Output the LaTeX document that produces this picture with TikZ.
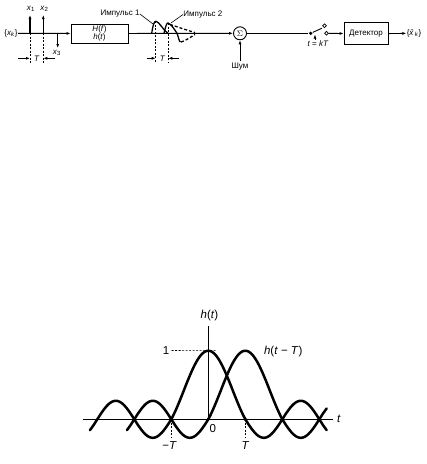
\documentclass[tikz,border=0pt]{standalone}
\usepackage{fontspec}
\setmainfont{Liberation Sans}
\usetikzlibrary{arrows.meta,positioning,calc}

\begin{document}
\begin{tikzpicture}[x=1pt, y=-1pt, line width=0.9pt, >={Latex[length=4pt,width=3pt]},
    every node/.style={font=\fontsize{8}{9}\selectfont, inner sep=0pt},
    blk/.style={draw, line width=0.9pt, minimum width=57pt, minimum height=19pt, align=center},
    sum/.style={draw, circle, line width=0.9pt, minimum size=13pt},
    imp/.style={->, line width=1.1pt},
    guide/.style={dashed, line width=0.6pt, dash pattern=on 2pt off 1.5pt},
    pulse/.style={line width=1.3pt},
    curve/.style={line width=2.5pt, line cap=round},
    big/.style={font=\fontsize{11.5}{12}\selectfont},
    declare function={hh(\u)=(abs(\u)<1)*sin(180*\u)/(pi*\u)+(abs(\u)>=1)*0.27*sin(180*abs(\u));}]
    \useasboundingbox (0,0) rectangle (427,464);

    % transmitter, channel and receiver
    \node (xin) at (11,33.3) {\{\textit{x}\textsubscript{\textit{k}}\}};
    \node[blk] (hbox) at (99.5,33.5) {\textit{H}(\textit{f})\\[-1pt]\textit{h}(\textit{t})};
    \node[sum] (sum) at (240,33.3) {$\Sigma$};
    \node (noise) at (240,67) {Шум};
    \node[circle, fill, minimum size=3.6pt] (sw) at (310.7,33.3) {};
    \node[circle, draw, line width=0.7pt, minimum size=3.8pt] (swup) at (324.5,25.8) {};
    \node[circle, draw, line width=0.7pt, minimum size=3.8pt] (swout) at (326.5,33.3) {};
    \node (kt) at (318,44) {\textit{t} = \textit{kT}};
    \node[blk, minimum width=44pt, minimum height=22pt] (det) at (366,33.8) {Детектор};
    \node (xout) at (414,33.3) {\{\textit{\^{x}}\textsubscript{\textit{k}}\}};

    \draw[->] (xin) -- (hbox);
    \draw[->] (hbox) -- (sum);
    \draw[->] ([yshift=2pt]noise.north) -- (sum);
    \draw (sum) -- (sw);
    \draw (sw) -- (322,28.2);
    \draw[->, line width=0.7pt] (315,40) -- (315,34.6);
    \draw[->] (swout) -- (det);
    \draw[->] (det) -- (xout);

    % input symbols
    \draw[imp] (30,33.3) -- (30,15);
    \draw[imp] (43.3,33.3) -- (43.3,15);
    \draw[imp] (57.7,33.3) -- (57.7,48);
    \node at (31,9) {\textit{x}\textsubscript{1}};
    \node at (44.5,9) {\textit{x}\textsubscript{2}};
    \node at (57,53) {\textit{x}\textsubscript{3}};
    \draw[guide] (30,33.3) -- (30,64);
    \draw[guide] (43.3,33.3) -- (43.3,64);
    \draw[->] (18,58.3) -- (30,58.3);
    \draw[->] (55,58.3) -- (43.3,58.3);
    \node at (36.7,58.3) {\textit{T}};

    % received pulses
    \draw[pulse] (151.7,33.3) .. controls (153,25) and (154,21.3) .. (156,21.3)
        .. controls (159,21.5) and (163,30) .. (168,33.3);
    \draw[pulse] (164,33.3) .. controls (165.5,27) and (166.5,23) .. (168,23)
        .. controls (171,24) and (175,30) .. (177,33.3)
        .. controls (178.5,37) and (179,41.5) .. (180.5,42);
    \draw[pulse, dashed, dash pattern=on 3pt off 2pt] (170,24.5) .. controls (178,27) and (186,30) .. (195,32.5);
    \draw[pulse, dashed, dash pattern=on 3pt off 2pt] (181,42) .. controls (185,41) and (190,37.5) .. (195,34.5);
    \draw[guide] (155.7,21.3) -- (155.7,63);
    \draw[guide] (168.3,23) -- (168.3,63);
    \draw[->] (146.5,58.3) -- (155.7,58.3);
    \draw[->] (179,58.3) -- (168.3,58.3);
    \node at (162.5,58.3) {\textit{T}};
    \node (imp1) at (120,14) {Импульс 1};
    \node[right] (imp2) at (183,14.5) {Импульс 2};
    \draw[line width=0.6pt] (imp1.east) -- (153,24);
    \draw[line width=0.6pt] (imp2.west) -- (171,23);

    % overlapping impulse responses
    \coordinate (tl) at (83,419.3);
    \coordinate (tr) at (333,419.3);
    \coordinate (o) at (208.3,419.3);
    \coordinate (vtop) at (208.3,326);
    \draw (tl) -- (tr);
    \draw (o) -- (vtop);
    \node[big] (tlab) at (339,419.3) {\textit{t}};
    \node[big] (hlab) at (209.5,316) {\textit{h}(\textit{t})};
    \node[big] (one) at (166,350.5) {1};
    \draw[guide] (one.east) ++(2pt,0) -- (217,350.7);
    \node[big] at (283.3,351.7) {\textit{h}(\textit{t} − \textit{T})};
    \draw[curve] plot[domain=-3.2:3.2, samples=130] ({208.3+37*\x},{419.3-68.6*hh(\x)});
    \draw[curve] plot[domain=-2.2:3.2, samples=110] ({208.3+37*\x},{419.3-68.6*hh(\x-1)});
    \foreach \k in {-1,0,1} {
      \fill ({208.3+37*\k},419.3) circle (1.8pt);
    }
    \draw[guide] (171.3,419.3) -- (171.3,437);
    \draw[guide] (245.3,419.3) -- (245.3,437);
    \node[big] at (212.7,429) {0};
    \node[big] at (169.5,445.5) {−\textit{T}};
    \node[big] at (245.5,445.5) {\textit{T}};
\end{tikzpicture}
\end{document}
